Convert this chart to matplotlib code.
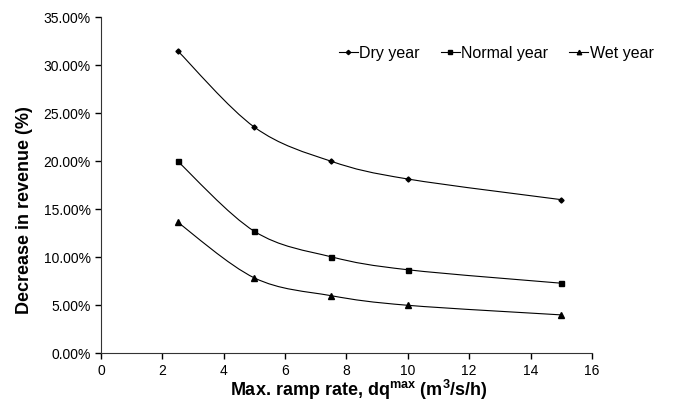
import matplotlib
matplotlib.use("Agg")
import matplotlib.pyplot as plt
from matplotlib.path import Path
from matplotlib.patches import PathPatch
from matplotlib.lines import Line2D
from matplotlib.ticker import FuncFormatter
import numpy as np

plt.rcParams['font.family'] = ['Liberation Sans', 'DejaVu Sans']

# values
ramp_rate = [2.5, 5, 7.5, 10, 15]
dry_year = [31.5, 23.55, 20.0, 18.15, 16.0]
normal_year = [20.0, 12.7, 10.05, 8.7, 7.3]
wet_year = [13.65, 7.85, 6.0, 5.0, 4.0]

series = [("Dry year", dry_year, "D", 2.6),
          ("Normal year", normal_year, "s", 3.6),
          ("Wet year", wet_year, "^", 3.8)]


def smooth_path(x, y):
    # Excel-like smoothed line: Bezier segments with Catmull-Rom control points
    p = np.column_stack([x, y]).astype(float)
    n = len(p)
    verts = [p[0]]
    codes = [Path.MOVETO]
    for i in range(n - 1):
        p_prev = p[i - 1] if i > 0 else p[i]
        p_next2 = p[i + 2] if i + 2 < n else p[i + 1]
        c1 = p[i] + (p[i + 1] - p_prev) / 6.0
        c2 = p[i + 1] - (p_next2 - p[i]) / 6.0
        verts += [c1, c2, p[i + 1]]
        codes += [Path.CURVE4] * 3
    return Path(verts, codes)


fig = plt.figure(figsize=(6.94, 4.03), dpi=100)
ax = fig.add_axes([0.1455, 0.1233, 0.7075, 0.834])

handles = []
for name, vals, mk, ms in series:
    ax.add_patch(PathPatch(smooth_path(ramp_rate, vals), facecolor="none",
                           edgecolor="black", lw=0.8))
    ax.plot(ramp_rate, vals, linestyle="none", marker=mk, ms=ms,
            color="black")
    handles.append(Line2D([], [], color="black", lw=0.8, marker=mk,
                          ms=ms * 0.85, label=name))

ax.set_xlim(0, 16)
ax.set_ylim(0, 35)
ax.set_xticks(np.arange(0, 17, 2))
ax.set_yticks(np.arange(0, 36, 5))
ax.yaxis.set_major_formatter(FuncFormatter(lambda v, p: "%.2f%%" % v))
ax.tick_params(direction="out", length=4, width=1, labelsize=10,
               colors="black")
ax.spines["top"].set_visible(False)
ax.spines["right"].set_visible(False)
for s in ("left", "bottom"):
    ax.spines[s].set_color("#333333")

ax.set_xlabel("Max. ramp rate, dq$^{\\mathregular{max}}$ (m$^{\\mathregular{3}}$/s/h)",
              fontsize=13, fontweight="bold")
ax.xaxis.set_label_coords(0.525, -0.072)
ax.set_ylabel("Decrease in revenue (%)", fontsize=13, fontweight="bold",
              va="center")
ax.yaxis.set_label_coords(-0.155, 0.425)

fig.legend(handles=handles, loc="center", bbox_to_anchor=(0.715, 0.868),
           ncol=3, frameon=False, fontsize=11.5, handlelength=1.2,
           handletextpad=0.1, columnspacing=1.3)

fig.savefig("out.png", dpi=100)
